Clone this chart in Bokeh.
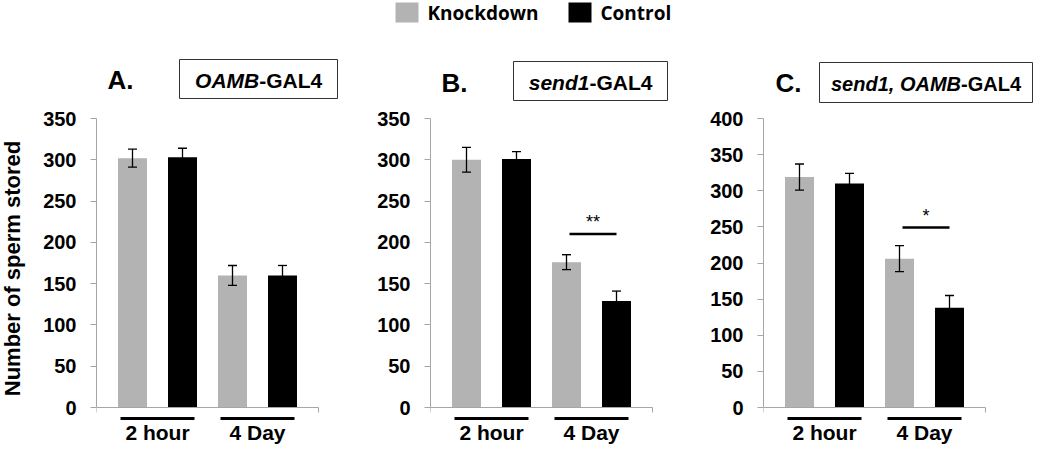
import math
from bokeh.plotting import figure
from bokeh.models import (ColumnDataSource, Range1d, LinearAxis, FixedTicker,
                          Whisker, TeeHead)
from bokeh.layouts import row, column
from bokeh.core.properties import value
from bokeh.embed import file_html
from bokeh.resources import INLINE

# ---------------- data ----------------
groups = ["2 hour", "4 Day"]
series = ["Knockdown", "Control"]
series_colors = ["#b3b3b3", "black"]
panel_letters = ["A.", "B.", "C."]
driver_italic = ["OAMB", "send1", "send1, OAMB"]
driver_suffix = "-GAL4"
y_title = "Number of sperm stored"

kd_A = [302, 160]
kd_A_err = [11, 12]
ctrl_A = [303, 160]
ctrl_A_err = [11, 12]

kd_B = [300, 176]
kd_B_err = [15, 9]
ctrl_B = [301, 129]
ctrl_B_err = [9, 12]

kd_C = [319, 206]
kd_C_err = [18, 18]
ctrl_C = [310, 138]
ctrl_C_err = [14, 17]

y_max = [350, 350, 400]
y_step = 50
significance = ["", "**", "*"]
bracket_y = [None, 210, 249]   # height of the significance bracket (axis units)

# ---------------- style / layout ----------------
AXIS_GRAY = "#a6a6a6"
FONT = "Liberation Sans"
TOTAL_W = 1034
LEGEND_H = 26
PANEL_H = 444 - LEGEND_H
PANEL_TOP = LEGEND_H     # page y of the panel row top
ZERO_PAGE = 407          # page y of value 0
SPAN_PX = 289            # pixels from 0 to y_max
SLOT_PX = 50             # pixels between bar centres
FIRST_BAR_PX = 36        # first bar centre from the axis
AXIS_LEN_PX = 222
YLABEL_W = 30

panels_cfg = [
    dict(x=YLABEL_W, width=340 - YLABEL_W, frame_left=96,
         letter=(107, 79), box=(179, 337, 59, 98), split=258.7, text_cy=79.5, tsize=21),
    dict(x=340, width=335, frame_left=430,
         letter=(441, 82), box=(513, 667, 61, 100), split=588.9, text_cy=81.5, tsize=21),
    dict(x=675, width=359, frame_left=763,
         letter=(775, 82), box=(819, 1032, 62, 102), split=960.5, text_cy=83, tsize=20),
]

data = [(kd_A, kd_A_err, ctrl_A, ctrl_A_err),
        (kd_B, kd_B_err, ctrl_B, ctrl_B_err),
        (kd_C, kd_C_err, ctrl_C, ctrl_C_err)]

kd_x = [2 * g for g in range(len(groups))]
ctrl_x = [2 * g + 1 for g in range(len(groups))]
group_x = [(a + b) / 2 for a, b in zip(kd_x, ctrl_x)]


def bare(fig):
    fig.outline_line_color = None
    fig.xgrid.visible = False
    fig.ygrid.visible = False
    return fig


def yd_for(ymax):
    return lambda py: (ZERO_PAGE - py) * ymax / SPAN_PX


def make_panel(i):
    cfg = panels_cfg[i]
    kd, kd_err, ctrl, ctrl_err = data[i]
    ymax = y_max[i]
    fl = cfg["frame_left"]
    border = fl - cfg["x"]
    fw = cfg["width"] - border

    def xd(px):
        return (px - fl - FIRST_BAR_PX) / SLOT_PX

    yd = yd_for(ymax)

    p = bare(figure(width=cfg["width"], height=PANEL_H, output_backend="svg",
                    toolbar_location=None,
                    x_range=Range1d(xd(fl), xd(fl + fw)),
                    y_range=Range1d(yd(PANEL_TOP + PANEL_H), yd(PANEL_TOP)),
                    x_axis_location=None,
                    min_border_left=border, min_border_right=0,
                    min_border_top=0, min_border_bottom=0))

    # y axis
    ya = p.yaxis[0]
    ya.ticker = FixedTicker(ticks=list(range(0, ymax + 1, y_step)))
    ya.bounds = (0, ymax)
    ya.axis_line_color = AXIS_GRAY
    ya.major_tick_line_color = AXIS_GRAY
    ya.major_tick_out = 6
    ya.major_tick_in = 0
    ya.minor_tick_line_color = None
    ya.major_label_text_font = FONT
    ya.major_label_text_font_style = "bold"
    ya.major_label_text_font_size = "20px"
    ya.major_label_text_color = "black"
    ya.major_label_standoff = 14

    # x axis at value 0 (end ticks only)
    x0, x1 = xd(fl), xd(fl + AXIS_LEN_PX)
    xa = LinearAxis(fixed_location=0, bounds=(x0, x1),
                    ticker=FixedTicker(ticks=[], minor_ticks=[x0, x1]),
                    major_tick_line_color=None,
                    minor_tick_in=5, minor_tick_out=0,
                    minor_tick_line_color=AXIS_GRAY,
                    axis_line_color=AXIS_GRAY)
    p.add_layout(xa, "above")

    # bars
    src_kd = ColumnDataSource(dict(x=kd_x, top=kd,
                                   upper=[m + e for m, e in zip(kd, kd_err)],
                                   lower=[m - e for m, e in zip(kd, kd_err)]))
    src_ct = ColumnDataSource(dict(x=ctrl_x, top=ctrl,
                                   upper=[m + e for m, e in zip(ctrl, ctrl_err)],
                                   lower=[m - e for m, e in zip(ctrl, ctrl_err)]))
    bw = 29 / SLOT_PX
    p.vbar(x="x", top="top", bottom=0, width=bw, source=src_kd,
           fill_color=series_colors[0], line_color=None)
    p.vbar(x="x", top="top", bottom=0, width=bw, source=src_ct,
           fill_color=series_colors[1], line_color=None)
    for src in (src_kd, src_ct):
        p.add_layout(Whisker(source=src, base="x", upper="upper", lower="lower",
                             line_color="black", line_width=1.3, level="annotation",
                             upper_head=TeeHead(size=9, line_color="black", line_width=1.3),
                             lower_head=TeeHead(size=9, line_color="black", line_width=1.3)))

    # group underlines and labels
    p.segment(x0=[g - 0.74 for g in group_x], x1=[g + 0.74 for g in group_x],
              y0=[yd(418)] * len(groups), y1=[yd(418)] * len(groups),
              line_color="black", line_width=3)
    p.text(x=group_x, y=[yd(432)] * len(groups), text=groups,
           text_font=value(FONT), text_font_style="bold", text_font_size="21px",
           text_align="center", text_baseline="middle", text_color="black")

    # significance
    if significance[i]:
        by = bracket_y[i]
        p.segment(x0=[xd(fl + 139)], x1=[xd(fl + 186)], y0=[by], y1=[by],
                  line_color="black", line_width=2.5)
        star_y = by + 12 * ymax / SPAN_PX
        p.text(x=[(xd(fl + 139) + xd(fl + 186)) / 2], y=[star_y], text=[significance[i]],
               text_font=value(FONT), text_font_size="18px",
               text_align="center", text_baseline="middle", text_color="black")

    # panel letter and driver box
    lx, ly = cfg["letter"]
    p.text(x=[xd(lx)], y=[yd(ly)], text=[panel_letters[i]],
           text_font=value(FONT), text_font_style="bold", text_font_size="26px",
           text_align="left", text_baseline="middle", text_color="black")
    bl, br, bt, bb = cfg["box"]
    p.quad(left=[xd(bl)], right=[xd(br)], top=[yd(bt)], bottom=[yd(bb)],
           fill_color=None, line_color="#333333", line_width=1)
    ts = "%dpx" % cfg["tsize"]
    p.text(x=[xd(cfg["split"])], y=[yd(cfg["text_cy"])], text=[driver_italic[i]],
           text_font=value(FONT), text_font_style="bold italic", text_font_size=ts,
           text_align="right", text_baseline="middle", text_color="black")
    p.text(x=[xd(cfg["split"])], y=[yd(cfg["text_cy"])], text=[driver_suffix],
           text_font=value(FONT), text_font_style="bold", text_font_size=ts,
           text_align="left", text_baseline="middle", text_color="black")
    return p


# shared y-axis title (narrow strip left of panel A)
yd_A = yd_for(y_max[0])
ylab = bare(figure(width=YLABEL_W, height=PANEL_H, output_backend="svg",
                   toolbar_location=None,
                   x_range=Range1d(0, YLABEL_W),
                   y_range=Range1d(yd_A(PANEL_TOP + PANEL_H), yd_A(PANEL_TOP)),
                   x_axis_location=None, y_axis_location=None,
                   min_border_left=0, min_border_right=0, min_border_top=0, min_border_bottom=0))
ylab.text(x=[12], y=[yd_A(268)], text=[y_title], angle=math.pi / 2,
          text_font=value(FONT), text_font_style="bold", text_font_size="22px",
          text_align="center", text_baseline="middle", text_color="black")

# legend strip on top (pixel coordinates, y downwards)
lg = bare(figure(width=TOTAL_W, height=LEGEND_H, output_backend="svg", toolbar_location=None,
                 x_range=Range1d(0, TOTAL_W), y_range=Range1d(LEGEND_H, 0),
                 x_axis_location=None, y_axis_location=None,
                 min_border_left=0, min_border_right=0, min_border_top=0, min_border_bottom=0))
legend_sq_x = [406.5, 579.5]
legend_txt_x = [427, 600]
lg.rect(x=legend_sq_x, y=[12] * len(series), width=23, height=20,
        fill_color=series_colors, line_color=None)
lg.text(x=legend_txt_x, y=[12] * len(series), text=series,
        text_font=value("Open Sans"), text_font_style="bold", text_font_size="19px",
        text_align="left", text_baseline="middle", text_color="black")

layout = column(lg, row(ylab, make_panel(0), make_panel(1), make_panel(2)))
open("out.html", "w").write(file_html(layout, INLINE))
